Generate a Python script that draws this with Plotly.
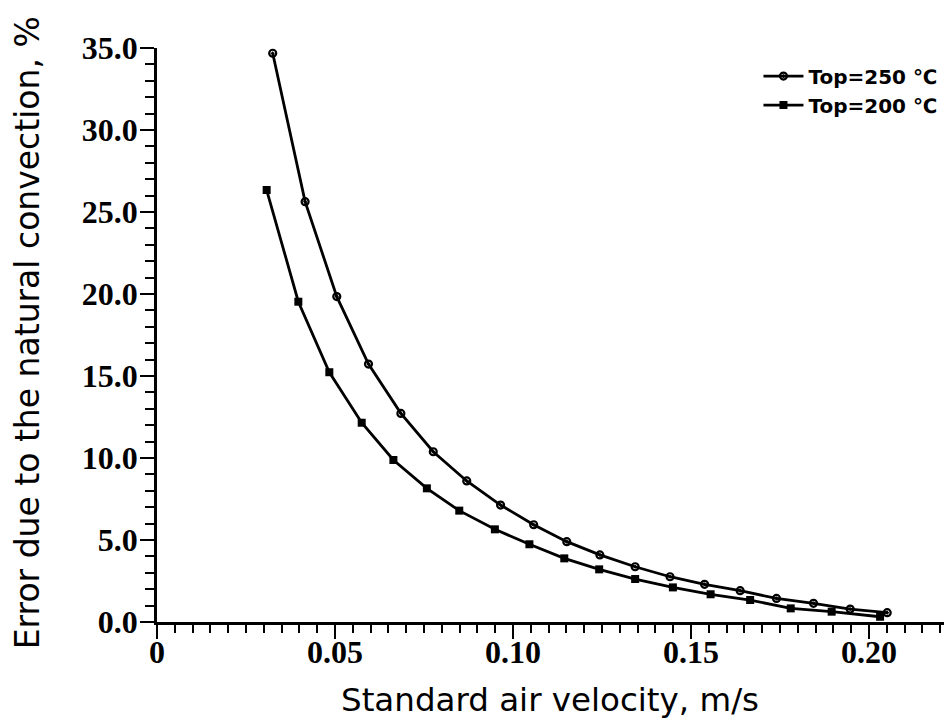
import plotly.graph_objects as go

# Data
x_250 = [0.0325, 0.0416, 0.0505, 0.0594, 0.0685, 0.0776, 0.0870, 0.0965, 0.1058, 0.1151,
         0.1244, 0.1343, 0.1441, 0.1538, 0.1638, 0.1740, 0.1844, 0.1947, 0.2051]
y_250 = [34.68, 25.63, 19.84, 15.73, 12.72, 10.38, 8.60, 7.13, 5.93, 4.90,
         4.09, 3.37, 2.76, 2.30, 1.91, 1.44, 1.14, 0.79, 0.57]

x_200 = [0.0308, 0.0397, 0.0484, 0.0575, 0.0664, 0.0758, 0.0849, 0.0949, 0.1046, 0.1144,
         0.1242, 0.1343, 0.1449, 0.1555, 0.1666, 0.1780, 0.1895, 0.2031]
y_200 = [26.34, 19.53, 15.23, 12.15, 9.88, 8.15, 6.79, 5.65, 4.74, 3.88,
         3.21, 2.62, 2.11, 1.69, 1.34, 0.83, 0.63, 0.32]

x_tickvals = [0, 0.05, 0.10, 0.15, 0.20]
x_ticktext = ["0", "0.05", "0.10", "0.15", "0.20"]
y_tickvals = [0, 5, 10, 15, 20, 25, 30, 35]
y_ticktext = ["0.0", "5.0", "10.0", "15.0", "20.0", "25.0", "30.0", "35.0"]

label_250 = "Top=250 ℃"
label_200 = "Top=200 ℃"
x_title = "Standard air velocity, m/s"
y_title = "Error due to the natural convection, %"

fig = go.Figure()
fig.add_trace(go.Scatter(
    x=x_250, y=y_250, mode="lines+markers", name=label_250,
    line=dict(color="black", width=2.8),
    marker=dict(symbol="circle-open-dot", size=7, color="black", line=dict(width=2.2, color="black")),
))
fig.add_trace(go.Scatter(
    x=x_200, y=y_200, mode="lines+markers", name=label_200,
    line=dict(color="black", width=2.8),
    marker=dict(symbol="square", size=8, color="black"),
))

tick_font = dict(family="Liberation Serif", size=32, color="black", weight="bold")

# page body has an 8px margin; compensate so the plot area lands where the reference has it
fig.update_layout(
    width=944, height=715,
    margin=dict(l=149, r=0, t=40, b=101),
    paper_bgcolor="white", plot_bgcolor="white",
    showlegend=True,
    legend=dict(
        x=0.988, y=0.985, xanchor="right", yanchor="top",
        font=dict(family="DejaVu Sans", size=20, color="black", weight="bold"),
        bgcolor="rgba(0,0,0,0)", itemwidth=40,
    ),
    annotations=[
        dict(text=x_title, x=0.494, y=-0.136, xref="paper", yref="paper",
             showarrow=False, font=dict(family="DejaVu Sans", size=32.5, color="black"),
             xanchor="center", yanchor="middle"),
        dict(text=y_title, x=-0.1625, y=0.5044, xref="paper", yref="paper",
             showarrow=False, font=dict(family="DejaVu Sans", size=33, color="black"),
             textangle=-90, xanchor="center", yanchor="middle"),
    ],
)

fig.update_xaxes(
    range=[0, 0.2233], showgrid=False, zeroline=False,
    showline=True, linecolor="black", linewidth=2.5,
    tickmode="array", tickvals=x_tickvals, ticktext=x_ticktext,
    ticks="outside", ticklen=14, tickwidth=2.2, tickcolor="black",
    ticklabelstandoff=-14,
    tickfont=tick_font,
    minor=dict(dtick=0.005, ticks="outside", ticklen=8, tickwidth=2, tickcolor="black", showgrid=False),
)
fig.update_yaxes(
    range=[0, 35], showgrid=False, zeroline=False,
    showline=True, linecolor="black", linewidth=2.5,
    tickmode="array", tickvals=y_tickvals, ticktext=y_ticktext,
    ticks="outside", ticklen=14, tickwidth=2.2, tickcolor="black",
    ticklabelstandoff=-4,
    tickfont=tick_font,
    minor=dict(dtick=1, ticks="outside", ticklen=9, tickwidth=2, tickcolor="black", showgrid=False),
)

fig.write_html("out.html")
